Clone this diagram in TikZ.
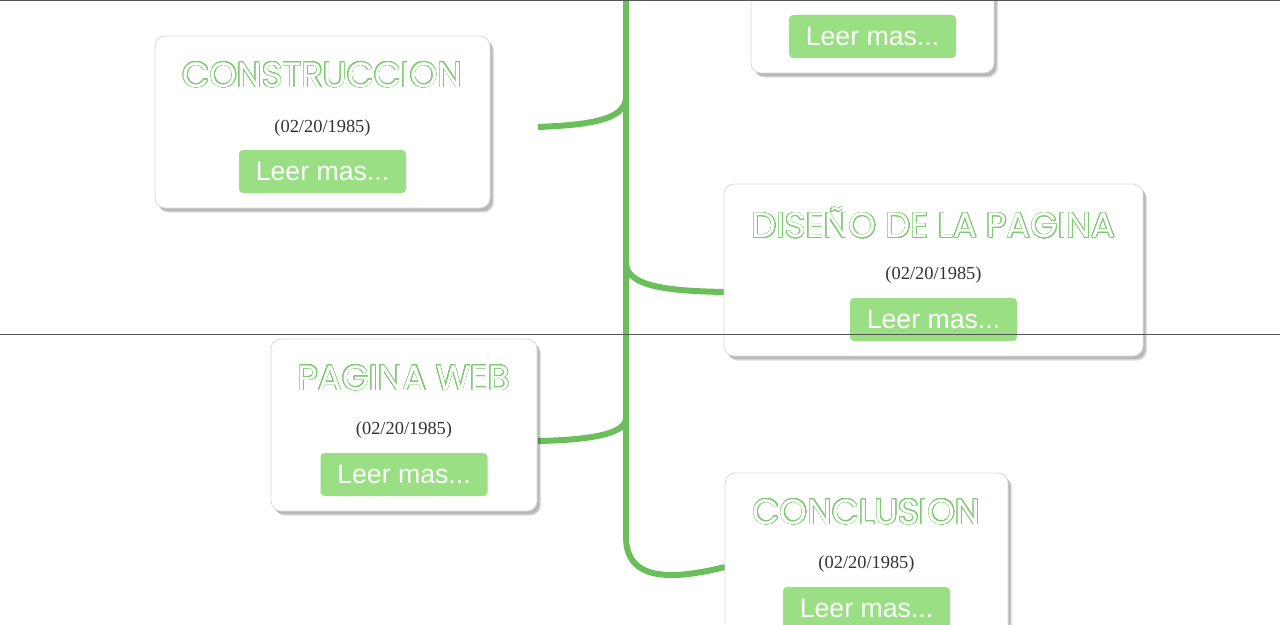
\documentclass[tikz,border=0pt]{standalone}
\usepackage{fontspec}
\setmainfont{Liberation Serif}
\newfontfamily\poppins{Poppins}
\newfontfamily\arial{Liberation Sans}
\usepackage[copies]{contour}
\contourlength{0.45pt}
\contournumber{32}
\usetikzlibrary{shadows}

\definecolor{spinegreen}{HTML}{6ABF5B}
\definecolor{btngreen}{HTML}{9ADF84}
\definecolor{titlegreen}{HTML}{7DCB71}
\definecolor{datetext}{HTML}{333333}
\definecolor{rulegray}{HTML}{555555}

\tikzset{
  card/.style={draw=gray!30, fill=white, rounded corners=7.5pt, line width=0.6pt,
    minimum height=129pt, inner sep=0pt,
    drop shadow={shadow xshift=3pt, shadow yshift=-3.5pt, fill=black, opacity=0.12},
    drop shadow={shadow xshift=2pt, shadow yshift=-2.5pt, fill=black, opacity=0.18}},
  cardtitle/.style={font=\poppins\fontsize{26.4}{26.4}\selectfont, inner sep=0pt},
  carddate/.style={text=datetext, font=\fontsize{13.8}{13.8}\selectfont, inner sep=0pt},
  leermas/.style={fill=btngreen, text=white, rounded corners=3pt, inner sep=0pt,
    minimum width=125.25pt, minimum height=32.25pt, font=\arial\fontsize{20}{20}\selectfont},
  spine/.style={draw=spinegreen, line width=4.5pt},
  pagerule/.style={draw=rulegray, line width=0.75pt}
}

\newcommand{\outlined}[1]{\contour{titlegreen}{\textcolor{white}{#1}}}

\begin{document}
\begin{tikzpicture}[x=0.75pt, y=-0.75pt]
  \useasboundingbox (0,0) rectangle (1280,624);
  \clip (0,0) rectangle (1280,624);

  % linea de tiempo
  \coordinate (top) at (626,-10);
  \coordinate (s1) at (626,97);
  \coordinate (s2) at (626,263);
  \coordinate (s3) at (626,418);
  \coordinate (s4) at (626,537);
  \coordinate (e1) at (538,127);
  \coordinate (e2) at (724,292);
  \coordinate (e3) at (538,441);
  \coordinate (e4) at (725,567);

  \draw[spine] (top) -- (s4) .. controls (626,585) and (680,578) .. (e4);
  \draw[spine] (s1) .. controls (626,121) and (585,125) .. (e1);
  \draw[spine] (s2) .. controls (626,288) and (675,291) .. (e2);
  \draw[spine] (s3) .. controls (626,434) and (590,440) .. (e3);

  % tarjetas
  \node[card, minimum width=182.25pt] (cardTop) at (872.5,-13) {};
  \node[leermas] (btnTop) at (872.5,36.5) {Leer mas...};

  \node[card, minimum width=251.25pt] (cardConstruccion) at (322.5,122) {};
  \node[cardtitle] (titleConstruccion) at (322.5,75) {\outlined{CONSTRUCCION}};
  \node[carddate] (dateConstruccion) at (322.5,128) {(02/20/1985)};
  \node[leermas] (btnConstruccion) at (322.5,171.5) {Leer mas...};

  \node[card, minimum width=314.25pt] (cardDiseno) at (933.5,270) {};
  \node[cardtitle] (titleDiseno) at (933.5,223) {\outlined{DISEÑO DE LA PAGINA}};
  \node[carddate] (dateDiseno) at (933.5,275) {(02/20/1985)};
  \node[leermas] (btnDiseno) at (933.5,319.5) {Leer mas...};

  \node[card, minimum width=199.5pt] (cardWeb) at (404,425) {};
  \node[cardtitle] (titleWeb) at (404,378) {\outlined{PAGINA WEB}};
  \node[carddate] (dateWeb) at (404,430) {(02/20/1985)};
  \node[leermas] (btnWeb) at (404,474.5) {Leer mas...};

  \node[card, minimum width=212.25pt] (cardConclusion) at (866.5,559) {};
  \node[cardtitle] (titleConclusion) at (866.5,512) {\outlined{CONCLUSION}};
  \node[carddate] (dateConclusion) at (866.5,564) {(02/20/1985)};
  \node[leermas] (btnConclusion) at (866.5,608.5) {Leer mas...};

  % bordes de pagina
  \draw[pagerule] (0,0.5) -- (1280,0.5);
  \draw[pagerule] (0,334) -- (1280,334);

\end{tikzpicture}
\end{document}
